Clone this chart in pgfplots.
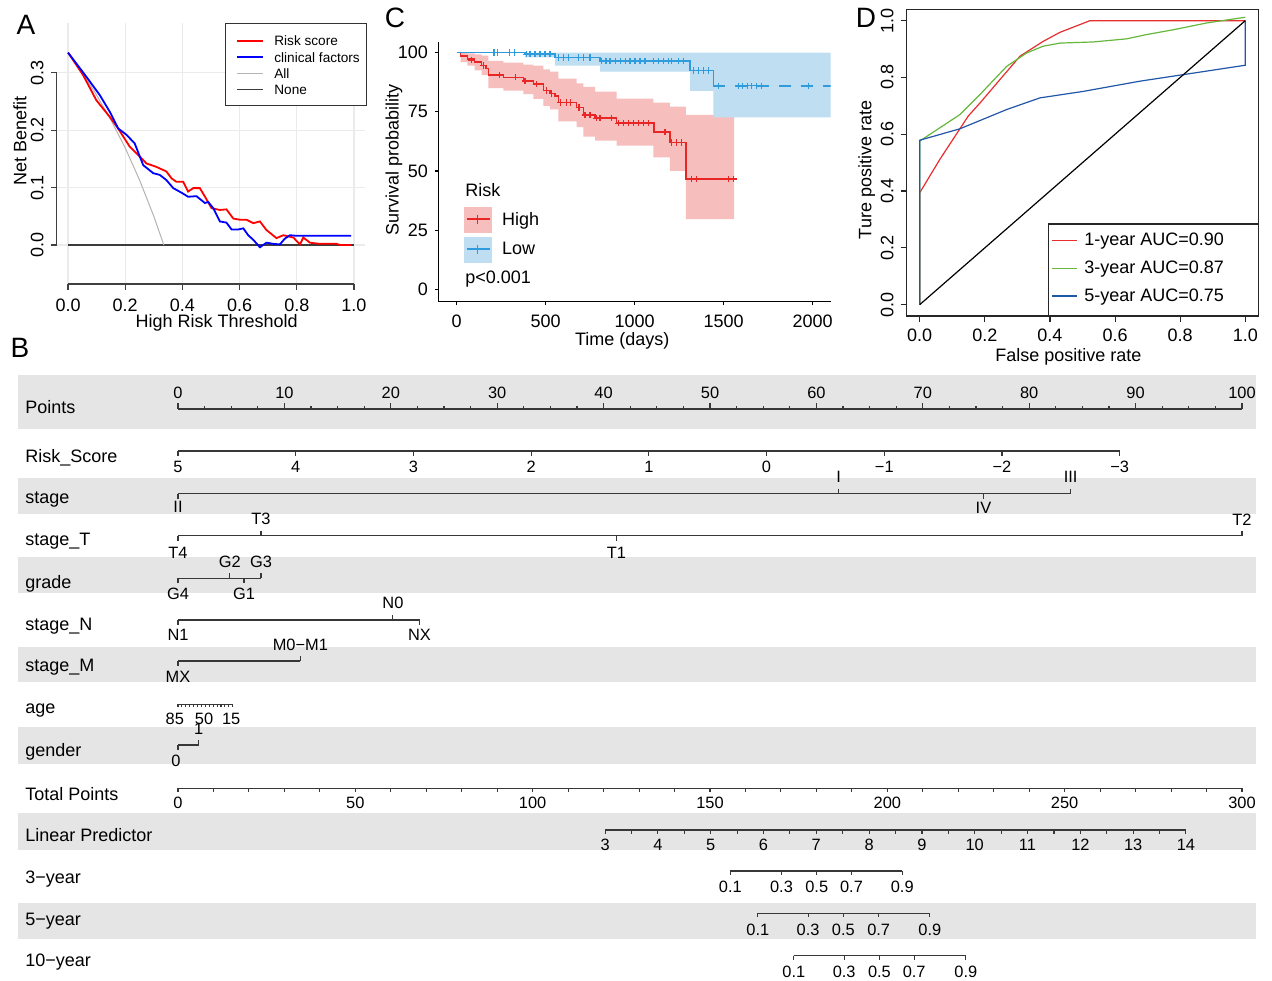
\documentclass[border=0pt]{standalone}
\usepackage{fontspec}
\setmainfont{Liberation Sans}
\usepackage{pgfplots}
\pgfplotsset{compat=1.18}

\definecolor{aRed}{RGB}{255,0,0}
\definecolor{aBlue}{RGB}{0,0,255}
\definecolor{aAll}{RGB}{180,180,180}
\definecolor{aNone}{RGB}{60,60,60}
\definecolor{aGrid}{RGB}{235,235,235}
\definecolor{hiLine}{RGB}{232,38,38}
\definecolor{hiBand}{RGB}{247,190,190}
\definecolor{loLine}{RGB}{45,155,220}
\definecolor{loBand}{RGB}{191,222,241}
\definecolor{dRed}{RGB}{232,45,45}
\definecolor{dGreen}{RGB}{102,184,60}
\definecolor{dBlue}{RGB}{33,87,168}
\definecolor{nomBand}{RGB}{229,229,229}
\definecolor{nomLine}{RGB}{55,55,55}

\newcommand\fnine{\fontsize{9}{10}\selectfont}
\newcommand\fleg{\fontsize{6.8}{8}\selectfont}
\newcommand\flab{\fontsize{9}{10}\selectfont}
\newcommand\ftick{\fontsize{8.2}{9}\selectfont}
\newcommand\fpanel{\fontsize{14}{16}\selectfont}

\pgfplotsset{
  nl/.style={nomLine, line width=0.55pt},
  tk/.style={nomLine, line width=0.55pt, only marks, mark=|, mark size=1.25pt},
}
\tikzset{
  tl/.style={font=\ftick, inner sep=0pt, anchor=center},
  rl/.style={font=\flab, inner sep=0pt, anchor=mid west},
  px/.style={x=0.5pt, y=0.5pt},
  ttl/.style={font=\fnine, inner sep=0pt},
}
% tick label and row label helpers for the nomogram
\newcommand\tl[3]{\node[tl] at (axis cs:#1,#2) {#3};}
\newcommand\rl[2]{\node[rl] at (axis cs:-14.38,#1) {#2};}

\begin{document}
\begin{tikzpicture}
\begin{scope}[px]
\path[use as bounding box, fill=white] (0,0) rectangle (1272,980);
% nomogram bands (background)
\fill[nomBand] (18,{980-375}) rectangle (1256,{980-429});
\fill[nomBand] (18,{980-478}) rectangle (1256,{980-514});
\fill[nomBand] (18,{980-557}) rectangle (1256,{980-593});
\fill[nomBand] (18,{980-646.7}) rectangle (1256,{980-681.7});
\fill[nomBand] (18,{980-726.7}) rectangle (1256,{980-764});
\fill[nomBand] (18,{980-813.3}) rectangle (1256,{980-850});
\fill[nomBand] (18,{980-902.7}) rectangle (1256,{980-939.3});
\end{scope}

% ---------------- panel A: decision curves
\begin{axis}[
  at={(28.3pt,348pt)}, anchor=south west, scale only axis,
  width=154.4pt, height=130.5pt,
  xmin=-0.04, xmax=1.04, ymin=-0.0679, ymax=0.3865,
  axis x line*=bottom, axis y line*=left, axis line style={draw=none},
  clip=false,
  tick align=outside, major tick length=3pt, tick style={black!75, line width=0.55pt},
  grid=major, major grid style={aGrid, line width=0.6pt},
  xtick={0,0.2,0.4,0.6,0.8,1}, xticklabels={0.0,0.2,0.4,0.6,0.8,1.0},
  ytick={0,0.1,0.2,0.3}, yticklabels={0.0,0.1,0.2,0.3},
  tick label style={font=\fnine},
  xticklabel style={yshift=-0.8pt},
  yticklabel style={rotate=90, anchor=south},
]
\draw[black!75, line width=0.55pt] (axis cs:0,-0.0679) -- (axis cs:1,-0.0679);
\draw[black!75, line width=0.55pt] (axis cs:-0.04,0) -- (axis cs:-0.04,0.3);
\addplot[aNone, line width=0.6pt] coordinates {(0,0)(1,0)};
\addplot[aAll, line width=0.5pt] coordinates
  {(0,0.335)(0.05,0.300)(0.1,0.261)(0.15,0.2176)(0.2,0.169)(0.25,0.1133)(0.3,0.050)(0.335,0)};
\addplot[aRed, line width=0.9pt] coordinates
  {(0,0.335)(0.0525,0.296)(0.099,0.252)(0.146,0.223)(0.175,0.203)(0.216,0.171)(0.251,0.154)
   (0.274,0.142)(0.309,0.136)(0.344,0.128)(0.362,0.116)(0.379,0.110)(0.403,0.110)(0.420,0.093)
   (0.438,0.099)(0.461,0.099)(0.479,0.084)(0.502,0.064)(0.531,0.061)(0.554,0.062)(0.578,0.046)
   (0.601,0.044)(0.624,0.044)(0.648,0.038)(0.671,0.041)(0.694,0.026)(0.729,0.012)(0.753,0.017)
   (0.788,0.013)(0.811,0.001)(0.823,0.013)(0.846,0.004)(0.881,0.002)(0.939,0.002)(0.951,0)(0.99,0)};
\addplot[aBlue, line width=0.9pt] coordinates
  {(0,0.335)(0.064,0.293)(0.111,0.261)(0.146,0.232)(0.175,0.203)(0.204,0.192)(0.233,0.177)
   (0.251,0.154)(0.263,0.139)(0.298,0.125)(0.321,0.122)(0.344,0.113)(0.368,0.099)(0.397,0.091)
   (0.420,0.084)(0.449,0.085)(0.479,0.073)(0.490,0.075)(0.508,0.064)(0.531,0.041)(0.554,0.039)
   (0.572,0.027)(0.595,0.027)(0.613,0.029)(0.630,0.017)(0.648,0.009)(0.671,-0.004)(0.694,0.004)
   (0.718,0.002)(0.741,0.001)(0.758,0.011)(0.776,0.017)(0.799,0.016)(0.99,0.016)};
\end{axis}

% ---------------- panel C: survival curves
\begin{axis}[
  at={(219.15pt,339.15pt)}, anchor=south west, scale only axis,
  width=196.2pt, height=130pt,
  xmin=-103.4, xmax=2101, ymin=-5.24, ymax=104.65,
  axis x line*=bottom, axis y line*=left, axis line style={-, black, line width=0.7pt},
  tick align=outside, major tick length=1.7pt, tick style={black, line width=0.6pt},
  xtick={0,500,1000,1500,2000}, xticklabels={0,500,1000,1500,2000},
  ytick={0,25,50,75,100}, yticklabels={0,25,50,75,100},
  tick label style={font=\fnine},
  xticklabel style={yshift=-1.3pt},
]
% confidence bands as step polygons (upper edge forward, lower edge back)
\addplot[fill=hiBand, draw=none] coordinates
  {(22,100)(60,100)(60,99.7)(100,99.7)(100,99.3)(140,99.3)(140,98.8)(178,98.8)(178,96.5)(262,96.5)
   (262,95.8)(375,95.8)(375,95)(431,95)(431,94.5)(487,94.5)(487,93)(524,93)(524,92)(571,92)
   (571,89)(674,89)(674,87)(712,87)(712,85.5)(777,85.5)(777,83.5)(899,83.5)(899,80.6)(1105,80.6)
   (1105,78.9)(1198,78.9)(1198,77.2)(1288,77.2)(1288,73.7)(1558,73.7)
   (1558,29.7)(1288,29.7)(1288,50.1)(1198,50.1)(1198,55.8)(1105,55.8)(1105,60.7)(899,60.7)
   (899,62.8)(777,62.8)(777,64.5)(712,64.5)(712,68.5)(674,68.5)(674,71)(571,71)(571,76)(524,76)
   (524,77.5)(487,77.5)(487,80.5)(431,80.5)(431,82.5)(375,82.5)(375,84)(262,84)(262,85)(178,85)
   (178,90.5)(140,90.5)(140,92.5)(100,92.5)(100,94.5)(60,94.5)(60,96)(22,96)};
\addplot[fill=loBand, draw=none] coordinates
  {(384,100)(2101,100)(2101,72.7)(1442,72.7)(1442,83.9)(1311,83.9)(1311,92)(805,92)
   (805,94.5)(552,94.5)(552,98)(384,98)};
\addplot[hiLine, line width=0.75pt, const plot] coordinates
  {(0,100)(22,98.6)(60,97.3)(100,96.0)(140,94.6)(165,93.3)(178,90.6)(262,89.6)(375,88.0)(431,86.7)
   (487,84.0)(524,82.8)(552,81.8)(571,78.9)(674,76.9)(712,73.7)(777,72.3)(899,70.2)(1108,66.4)
   (1198,62.1)(1288,46.6)(1573,46.6)};
\addplot[hiLine, only marks, mark=+, mark size=1.6pt, line width=0.6pt] coordinates
  {(84,96.9)(150,94.6)(240,90.6)(328,89.6)(384,88.0)(446,86.7)(506,84.0)(534,82.8)
   (581,78.9)(618,78.9)(637,78.9)(687,76.9)(721,73.7)(749,73.7)(786,72.3)(805,72.3)(871,72.3)
   (907,70.2)(935,70.2)(963,70.2)(991,70.2)(1020,70.2)(1048,70.2)(1076,70.2)(1170,66.4)
   (1208,62.1)(1236,62.1)(1264,62.1)(1320,46.6)(1348,46.6)(1526,46.6)(1554,46.6)};
\addplot[loLine, line width=0.75pt, const plot] coordinates
  {(0,100)(384,99.4)(552,98.0)(805,96.5)(1311,92.5)(1442,86.0)};
\addplot[loLine, line width=0.75pt, dash pattern=on 6pt off 5pt] coordinates
  {(1442,86.0)(2101,86.0)};
\addplot[loLine, only marks, mark=+, mark size=1.6pt, line width=0.6pt] coordinates
  {(210,100)(228,100)(296,100)(324,100)
   (393,99.4)(412,99.4)(440,99.4)(468,99.4)(496,99.4)(524,99.4)
   (571,98)(599,98)(627,98)(684,98)(712,98)(749,98)
   (815,96.5)(839,96.5)(861,96.5)(890,96.5)(918,96.5)(946,96.5)(974,96.5)(1002,96.5)(1030,96.5)
   (1058,96.5)(1105,96.5)(1133,96.5)(1161,96.5)(1189,96.5)(1208,96.5)(1245,96.5)(1273,96.5)
   (1330,92.5)(1358,92.5)(1386,92.5)(1414,92.5)
   (1470,86)(1582,86)(1607,86)(1633,86)(1657,86)(1685,86)(1713,86)(1975,86)};
\end{axis}

% ---------------- panel D: ROC curves
\begin{axis}[
  at={(453.35pt,332pt)}, anchor=south west, scale only axis,
  width=175.8pt, height=153.35pt,
  xmin=-0.04, xmax=1.04, ymin=-0.04, ymax=1.04,
  axis line style={black!85, line width=0.6pt},
  tick pos=left, tick align=outside, major tick length=3pt, tick style={black!85, line width=0.55pt},
  xtick={0,0.2,0.4,0.6,0.8,1}, xticklabels={0.0,0.2,0.4,0.6,0.8,1.0},
  ytick={0,0.2,0.4,0.6,0.8,1}, yticklabels={0.0,0.2,0.4,0.6,0.8,1.0},
  tick label style={font=\fnine},
  yticklabel style={rotate=90, anchor=south},
]
\addplot[dRed, line width=0.6pt] coordinates
  {(0,0)(0,0.394)(0.0615,0.511)(0.149,0.664)(0.185,0.710)(0.246,0.792)(0.308,0.875)
   (0.379,0.927)(0.431,0.959)(0.523,1.0)(1,1)};
\addplot[dGreen, line width=0.6pt] coordinates
  {(0,0)(0,0.576)(0.123,0.669)(0.185,0.740)(0.267,0.839)(0.328,0.886)(0.379,0.910)(0.431,0.921)
   (0.533,0.925)(0.636,0.936)(0.697,0.951)(0.779,0.968)(0.882,0.992)(1,1.012)};
\addplot[dBlue, line width=0.6pt] coordinates
  {(0,0)(0,0.579)(0.123,0.619)(0.267,0.687)(0.369,0.728)(0.503,0.751)(0.677,0.787)(0.810,0.810)
   (1,0.843)(1,1.0)};
\addplot[black, line width=0.6pt] coordinates {(0,0)(1,1)};
\end{axis}

% ---------------- panel B: nomogram
\begin{axis}[
  at={(9pt,0pt)}, anchor=south west, scale only axis,
  width=619pt, height=305pt,
  xmin=-15.0376, xmax=101.316, ymin=370, ymax=980, y dir=reverse,
  hide axis, clip=false,
]
% Points
\addplot[nl] coordinates {(0,409)(100,409)};
\addplot[tk, mark size=1.5pt] coordinates
  {(0,406)(10,406)(20,406)(30,406)(40,406)(50,406)(60,406)(70,406)(80,406)(90,406)(100,406)};
\addplot[tk, mark size=0.75pt] coordinates
  {(2.5,407.5)(5,407.5)(7.5,407.5)(12.5,407.5)(15,407.5)(17.5,407.5)(22.5,407.5)(25,407.5)
   (27.5,407.5)(32.5,407.5)(35,407.5)(37.5,407.5)(42.5,407.5)(45,407.5)(47.5,407.5)(52.5,407.5)
   (55,407.5)(57.5,407.5)(62.5,407.5)(65,407.5)(67.5,407.5)(72.5,407.5)(75,407.5)(77.5,407.5)
   (82.5,407.5)(85,407.5)(87.5,407.5)(92.5,407.5)(95,407.5)(97.5,407.5)};
\tl{0}{393}{0}\tl{10}{393}{10}\tl{20}{393}{20}\tl{30}{393}{30}\tl{40}{393}{40}\tl{50}{393}{50}
\tl{60}{393}{60}\tl{70}{393}{70}\tl{80}{393}{80}\tl{90}{393}{90}\tl{100}{393}{100}
\rl{408}{Points}
% Risk_Score
\addplot[nl] coordinates {(0,451)(88.5,451)};
\addplot[tk] coordinates
  {(0,453.5)(11.06,453.5)(22.13,453.5)(33.19,453.5)(44.25,453.5)(55.31,453.5)(66.38,453.5)(77.44,453.5)(88.5,453.5)};
\tl{0}{467}{5}\tl{11.06}{467}{4}\tl{22.13}{467}{3}\tl{33.19}{467}{2}\tl{44.25}{467}{1}
\tl{55.31}{467}{0}\tl{66.38}{467}{−1}\tl{77.44}{467}{−2}\tl{88.5}{467}{−3}
\rl{457}{Risk\_Score}
% stage
\addplot[nl] coordinates {(0,493.7)(83.9,493.7)};
\addplot[tk] coordinates {(0,496.2)(75.7,496.2)};
\addplot[tk] coordinates {(62.1,491.2)(83.9,491.2)};
\tl{0}{507}{II}\tl{75.7}{508}{IV}\tl{62.1}{477}{I}\tl{83.9}{477}{III}
\rl{498}{stage}
% stage_T
\addplot[nl] coordinates {(0,535.7)(100,535.7)};
\addplot[tk] coordinates {(0,538.2)(41.2,538.2)};
\addplot[tk] coordinates {(7.8,533.2)(100,533.2)};
\tl{0}{552.7}{T4}\tl{41.2}{552.7}{T1}\tl{7.8}{519.3}{T3}\tl{100}{520}{T2}
\rl{540}{stage\_T}
% grade
\addplot[nl] coordinates {(0,578.3)(7.8,578.3)};
\addplot[tk] coordinates {(0,580.8)(6.2,580.8)};
\addplot[tk] coordinates {(4.87,575.8)(7.8,575.8)};
\tl{0}{594}{G4}\tl{6.2}{594}{G1}\tl{4.87}{561.7}{G2}\tl{7.8}{561.7}{G3}
\rl{583}{grade}
% stage_N
\addplot[nl] coordinates {(0,620)(22.7,620)};
\addplot[tk] coordinates {(0,622.5)(22.7,622.5)};
\addplot[tk] coordinates {(20.2,617.5)};
\tl{0}{635}{N1}\tl{22.7}{635}{NX}\tl{20.2}{603.3}{N0}
\rl{625}{stage\_N}
% stage_M
\addplot[nl] coordinates {(0,661)(11.5,661)};
\addplot[tk] coordinates {(0,663.5)};
\addplot[tk] coordinates {(11.5,658.5)};
\tl{0}{677.3}{MX}\tl{11.5}{645}{M0−M1}
\rl{666.7}{stage\_M}
% age
\addplot[nl] coordinates {(0,704.3)(5.14,704.3)};
\addplot[tk, mark size=0.75pt] coordinates
  {(0,705.8)(0.367,705.8)(0.734,705.8)(1.101,705.8)(1.469,705.8)(1.836,705.8)(2.203,705.8)(2.570,705.8)
   (2.937,705.8)(3.304,705.8)(3.671,705.8)(4.039,705.8)(4.406,705.8)(4.773,705.8)(5.14,705.8)};
\tl{-0.3}{719.3}{85}\tl{2.45}{719.3}{50}\tl{5.0}{719.3}{15}
\rl{708.3}{age}
% gender
\addplot[nl] coordinates {(0,745)(1.95,745)};
\addplot[tk] coordinates {(0,747.5)};
\addplot[tk] coordinates {(1.95,742.5)};
\tl{-0.2}{760.7}{0}\tl{1.95}{729}{1}
\rl{751}{gender}
% Total Points
\addplot[nl] coordinates {(0,788.3)(100,788.3)};
\addplot[tk, mark size=1pt] coordinates
  {(0,790.3)(3.333,790.3)(6.667,790.3)(10,790.3)(13.333,790.3)(16.667,790.3)(20,790.3)(23.333,790.3)
   (26.667,790.3)(30,790.3)(33.333,790.3)(36.667,790.3)(40,790.3)(43.333,790.3)(46.667,790.3)(50,790.3)
   (53.333,790.3)(56.667,790.3)(60,790.3)(63.333,790.3)(66.667,790.3)(70,790.3)(73.333,790.3)
   (76.667,790.3)(80,790.3)(83.333,790.3)(86.667,790.3)(90,790.3)(93.333,790.3)(96.667,790.3)(100,790.3)};
\tl{0}{803.3}{0}\tl{16.667}{803.3}{50}\tl{33.333}{803.3}{100}\tl{50}{803.3}{150}
\tl{66.667}{803.3}{200}\tl{83.333}{803.3}{250}\tl{100}{803.3}{300}
\rl{795}{Total Points}
% Linear Predictor
\addplot[nl] coordinates {(40.14,830)(94.73,830)};
\addplot[tk, mark size=1pt] coordinates
  {(40.14,832)(42.62,832)(45.10,832)(47.58,832)(50.07,832)(52.55,832)(55.03,832)(57.51,832)
   (59.99,832)(62.47,832)(64.96,832)(67.44,832)(69.92,832)(72.40,832)(74.88,832)(77.36,832)
   (79.84,832)(82.33,832)(84.81,832)(87.29,832)(89.77,832)(92.25,832)(94.73,832)};
\tl{40.14}{845}{3}\tl{45.10}{845}{4}\tl{50.07}{845}{5}\tl{55.03}{845}{6}\tl{59.99}{845}{7}
\tl{64.96}{845}{8}\tl{69.92}{845}{9}\tl{74.88}{845}{10}\tl{79.84}{845}{11}\tl{84.81}{845}{12}
\tl{89.77}{845}{13}\tl{94.73}{845}{14}
\rl{836.7}{Linear Predictor}
% 3-year
\addplot[nl] coordinates {(51.91,871)(68.07,871)};
\addplot[tk, mark size=1pt] coordinates {(51.91,873)(56.72,873)(60.03,873)(63.30,873)(68.07,873)};
\tl{51.91}{886.7}{0.1}\tl{56.72}{886.7}{0.3}\tl{60.03}{886.7}{0.5}\tl{63.30}{886.7}{0.7}\tl{68.07}{886.7}{0.9}
\rl{878.3}{3−year}
% 5-year
\addplot[nl] coordinates {(54.49,913.3)(70.66,913.3)};
\addplot[tk, mark size=1pt] coordinates {(54.49,915.3)(59.22,915.3)(62.53,915.3)(65.85,915.3)(70.66,915.3)};
\tl{54.49}{930}{0.1}\tl{59.22}{930}{0.3}\tl{62.53}{930}{0.5}\tl{65.85}{930}{0.7}\tl{70.66}{930}{0.9}
\rl{920}{5−year}
% 10-year
\addplot[nl] coordinates {(57.88,955.7)(74.04,955.7)};
\addplot[tk, mark size=1pt] coordinates {(57.88,957.7)(62.61,957.7)(65.92,957.7)(69.19,957.7)(74.04,957.7)};
\tl{57.88}{971.7}{0.1}\tl{62.61}{971.7}{0.3}\tl{65.92}{971.7}{0.5}\tl{69.19}{971.7}{0.7}\tl{74.04}{971.7}{0.9}
\rl{961.7}{10−year}
\end{axis}

% ---------------- texts and legends outside the axes
\begin{scope}[px]
% legend A
\draw[black!80, line width=0.5pt, fill=white] (225,956) rectangle (366,874);
\draw[aRed, line width=0.9pt] (237,{980-40.7}) -- (263,{980-40.7});
\draw[aBlue, line width=0.9pt] (237,{980-57.3}) -- (263,{980-57.3});
\draw[aAll, line width=0.5pt] (237,{980-73.3}) -- (263,{980-73.3});
\draw[aNone, line width=0.6pt] (237,{980-89.7}) -- (263,{980-89.7});
\node[font=\fleg, anchor=mid west, inner sep=0pt] at (274,{980-40.7}) {Risk score};
\node[font=\fleg, anchor=mid west, inner sep=0pt] at (274,{980-57.3}) {clinical factors};
\node[font=\fleg, anchor=mid west, inner sep=0pt] at (274,{980-73.3}) {All};
\node[font=\fleg, anchor=mid west, inner sep=0pt] at (274,{980-89.7}) {None};
\node[ttl, rotate=90] at (20,{980-141}) {Net Benefit};
\node[ttl] at (216.7,{980-322.5}) {High Risk Threshold};
\node[font=\fpanel] at (26,{980-25}) {A};
% legend C
\node[font=\fnine, anchor=mid west, inner sep=0pt] at (465,{980-191.7}) {Risk};
\fill[hiBand] (464.3,{980-206.7}) rectangle (491.7,{980-233.3});
\draw[hiLine, line width=1.1pt] (466.7,{980-219.3}) -- (490,{980-219.3});
\draw[hiLine, line width=0.8pt] (477.3,{980-214.8}) -- (477.3,{980-223.8});
\fill[loBand] (464.3,{980-236.7}) rectangle (491.7,{980-263.3});
\draw[loLine, line width=1.1pt] (466.7,{980-249.3}) -- (490,{980-249.3});
\draw[loLine, line width=0.8pt] (477.3,{980-244.8}) -- (477.3,{980-253.8});
\node[font=\fnine, anchor=mid west, inner sep=0pt] at (501.7,{980-220}) {High};
\node[font=\fnine, anchor=mid west, inner sep=0pt] at (501.7,{980-249.3}) {Low};
\node[font=\fnine, anchor=mid west, inner sep=0pt] at (465,{980-278.3}) {p<0.001};
\node[ttl, rotate=90] at (394,{980-160}) {Survival probability};
\node[ttl] at (622.3,{980-340.5}) {Time (days)};
\node[font=\fpanel] at (395,{980-18.3}) {C};
% legend D
\draw[black!85, line width=0.6pt, fill=white] (1048.3,{980-224}) rectangle (1258.3,{980-316});
\draw[dRed, line width=0.6pt] (1052,{980-240.7}) -- (1077,{980-240.7});
\draw[dGreen, line width=0.6pt] (1052,{980-268.3}) -- (1077,{980-268.3});
\draw[dBlue, line width=0.6pt] (1052,{980-296}) -- (1077,{980-296});
\node[font=\fnine, anchor=mid west, inner sep=0pt] at (1084,{980-240.7}) {1-year AUC=0.90};
\node[font=\fnine, anchor=mid west, inner sep=0pt] at (1084,{980-268.3}) {3-year AUC=0.87};
\node[font=\fnine, anchor=mid west, inner sep=0pt] at (1084,{980-296}) {5-year AUC=0.75};
\node[ttl, rotate=90] at (866.7,{980-170}) {Ture positive rate};
\node[ttl] at (1068.3,{980-356.7}) {False positive rate};
\node[font=\fpanel] at (866,{980-18}) {D};
\node[font=\fpanel] at (20,{980-348}) {B};
\end{scope}
\end{tikzpicture}
\end{document}
